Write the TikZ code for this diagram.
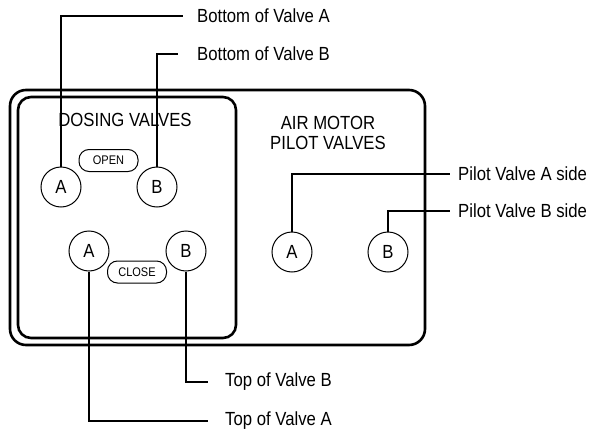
\documentclass[tikz,border=0pt]{standalone}
\usepackage{fontspec}
\setmainfont{Liberation Sans}[FakeStretch=0.88]
\usetikzlibrary{positioning}

\begin{document}
\begin{tikzpicture}[
    x=1pt, y=-1pt,
    every node/.style={font=\fontsize{19}{20}\selectfont, align=center},
    valve/.style={circle, draw, line width=1pt, minimum size=40pt, inner sep=0pt},
    pill/.style={rectangle, draw, line width=1pt, rounded corners=10pt, minimum width=59pt, minimum height=22pt, inner sep=0pt, font=\fontsize{12.5}{14}\selectfont},
    tag/.style={anchor=west, inner sep=0pt},
    frame/.style={line width=2.6pt, rounded corners=16pt},
    leader/.style={line width=1.6pt}
]
\useasboundingbox (0,0) rectangle (598,431);

% Panel frames
\draw[frame] (10,90) rectangle (425,345);
\draw[frame, rounded corners=13pt] (18,97) rectangle (236,338);

% Titles
\node (dostitle) at (125,120) {DOSING VALVES};
\node (airtitle) at (328,133) {AIR MOTOR\\PILOT VALVES};

% Dosing valves
\node[valve] (dosA) at (61,187) {A};
\node[valve] (dosB) at (157,187) {B};
\node[valve] (cloA) at (89,251) {A};
\node[valve] (cloB) at (186,251) {B};
\node[pill] (open) at (108.5,160.5) {OPEN};
\node[pill] (close) at (137,272) {CLOSE};

% Air motor pilot valves
\node[valve] (pilA) at (292,252) {A};
\node[valve] (pilB) at (388,252) {B};

% Callout texts
\node[tag] (botA) at (197,16) {Bottom of Valve A};
\node[tag] (botB) at (197,54) {Bottom of Valve B};
\node[tag] (pilAtag) at (458,174) {Pilot Valve A side};
\node[tag] (pilBtag) at (458,211) {Pilot Valve B side};
\node[tag] (topB) at (225,382) {Top of Valve B};
\node[tag] (topA) at (225,421) {Top of Valve A};

% Leaders
\draw[leader] (dosA.north) |- ([xshift=-14pt]botA.west);
\draw[leader] (dosB.north) |- ([xshift=-19pt]botB.west);
\draw[leader] (pilA.north) |- ([xshift=-8pt]pilAtag.west);
\draw[leader] (pilB.north) |- ([xshift=-8pt]pilBtag.west);
\draw[leader] (cloB.south) |- ([xshift=-17pt]topB.west);
\draw[leader] (cloA.south) |- ([xshift=-17pt]topA.west);

\end{tikzpicture}
\end{document}
